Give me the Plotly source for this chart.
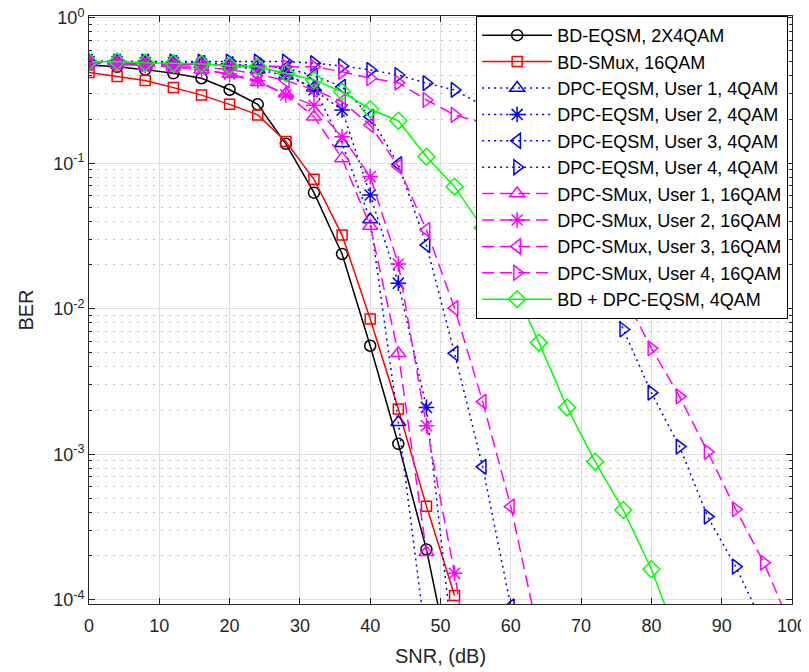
import plotly.graph_objects as go

# ---------------- data ----------------
snr_bd_eqsm = [0, 4, 8, 12, 16, 20, 24, 28, 32, 36, 40, 44, 48, 52]
ber_bd_eqsm = [0.474, 0.46, 0.44, 0.415, 0.384, 0.32, 0.254, 0.136, 0.0628, 0.0238, 0.00557, 0.00118, 2.22e-4, 2.6e-5]

snr_bd_smux = [0, 4, 8, 12, 16, 20, 24, 28, 32, 36, 40, 44, 48, 52]
ber_bd_smux = [0.42, 0.394, 0.37, 0.331, 0.294, 0.254, 0.215, 0.141, 0.0776, 0.0321, 0.0085, 0.00205, 4.4e-4, 1.07e-4]

snr_dpc_eqsm_u1 = [0, 4, 8, 12, 16, 20, 24, 28, 32, 36, 40, 44, 48]
ber_dpc_eqsm_u1 = [0.5, 0.5, 0.49, 0.49, 0.48, 0.47, 0.44, 0.40, 0.33, 0.137, 0.041, 0.00166, 5e-5]

snr_dpc_eqsm_u2 = [0, 4, 8, 12, 16, 20, 24, 28, 32, 36, 40, 44, 48, 52]
ber_dpc_eqsm_u2 = [0.5, 0.5, 0.49, 0.49, 0.48, 0.47, 0.45, 0.42, 0.32, 0.232, 0.0605, 0.015, 0.0021, 3.8e-5]

snr_dpc_eqsm_u3 = [0, 4, 8, 12, 16, 20, 24, 28, 32, 36, 40, 44, 48, 52, 56, 60]
ber_dpc_eqsm_u3 = [0.5, 0.5, 0.5, 0.49, 0.49, 0.48, 0.47, 0.45, 0.40, 0.336, 0.209, 0.0985, 0.0274, 0.00494, 8.2e-4, 9e-5]

snr_dpc_eqsm_u4 = [0, 4, 8, 12, 16, 20, 24, 28, 32, 36, 40, 44, 48, 52, 56, 60, 64, 68, 72, 76, 80, 84, 88, 92, 96]
ber_dpc_eqsm_u4 = [0.5, 0.5, 0.5, 0.5, 0.5, 0.5, 0.5, 0.5, 0.487, 0.466, 0.438, 0.404, 0.355, 0.319, 0.25, 0.18,
                   0.107, 0.052, 0.021, 0.0072, 0.00265, 0.00113, 3.73e-4, 1.69e-4, 6.6e-5]

snr_dpc_smux_u1 = [0, 4, 8, 12, 16, 20, 24, 28, 32, 36, 40, 44, 48]
ber_dpc_smux_u1 = [0.49, 0.48, 0.47, 0.46, 0.44, 0.41, 0.36, 0.30, 0.209, 0.108, 0.037, 0.00494, 2.12e-4]

snr_dpc_smux_u2 = [0, 4, 8, 12, 16, 20, 24, 28, 32, 36, 40, 44, 48, 52, 56]
ber_dpc_smux_u2 = [0.49, 0.48, 0.47, 0.46, 0.44, 0.41, 0.37, 0.295, 0.25, 0.152, 0.081, 0.0203, 0.00157, 1.52e-4, 1e-5]

snr_dpc_smux_u3 = [0, 4, 8, 12, 16, 20, 24, 28, 32, 36, 40, 44, 48, 52, 56, 60, 64]
ber_dpc_smux_u3 = [0.49, 0.49, 0.48, 0.47, 0.46, 0.44, 0.41, 0.37, 0.32, 0.265, 0.183, 0.095, 0.0348, 0.0101,
                   0.0023, 4.37e-4, 5.6e-5]

snr_dpc_smux_u4 = [0, 4, 8, 12, 16, 20, 24, 28, 32, 36, 40, 44, 48, 52, 56, 60, 64, 68, 72, 76, 80, 84, 88, 92, 96, 100]
ber_dpc_smux_u4 = [0.49, 0.49, 0.48, 0.48, 0.48, 0.47, 0.47, 0.46, 0.46, 0.426, 0.384, 0.358, 0.272, 0.215, 0.19,
                   0.14, 0.093, 0.054, 0.028, 0.0126, 0.00535, 0.0025, 0.00104, 4.19e-4, 1.8e-4, 6.3e-5]

snr_bd_dpc = [0, 4, 8, 12, 16, 20, 24, 28, 32, 36, 40, 44, 48, 52, 56, 60, 64, 68, 72, 76, 80, 84]
ber_bd_dpc = [0.499, 0.5, 0.49, 0.486, 0.482, 0.466, 0.46, 0.416, 0.374, 0.31, 0.235, 0.196, 0.111, 0.069,
              0.036, 0.0158, 0.00585, 0.0021, 8.9e-4, 4.14e-4, 1.62e-4, 5e-5]

series_names = [
    "BD-EQSM, 2X4QAM",
    "BD-SMux, 16QAM",
    "DPC-EQSM, User 1, 4QAM",
    "DPC-EQSM, User 2, 4QAM",
    "DPC-EQSM, User 3, 4QAM",
    "DPC-EQSM, User 4, 4QAM",
    "DPC-SMux, User 1, 16QAM",
    "DPC-SMux, User 2, 16QAM",
    "DPC-SMux, User 3, 16QAM",
    "DPC-SMux, User 4, 16QAM",
    "BD + DPC-EQSM, 4QAM",
]

x_tick_vals = [0, 10, 20, 30, 40, 50, 60, 70, 80, 90, 100]
y_tick_vals = [1e-4, 1e-3, 1e-2, 1e-1, 1]
y_tick_text = ["10<sup>-4</sup>", "10<sup>-3</sup>", "10<sup>-2</sup>", "10<sup>-1</sup>", "10<sup>0</sup>"]

# ---------------- styling ----------------
xs = [snr_bd_eqsm, snr_bd_smux, snr_dpc_eqsm_u1, snr_dpc_eqsm_u2, snr_dpc_eqsm_u3, snr_dpc_eqsm_u4,
      snr_dpc_smux_u1, snr_dpc_smux_u2, snr_dpc_smux_u3, snr_dpc_smux_u4, snr_bd_dpc]
ys = [ber_bd_eqsm, ber_bd_smux, ber_dpc_eqsm_u1, ber_dpc_eqsm_u2, ber_dpc_eqsm_u3, ber_dpc_eqsm_u4,
      ber_dpc_smux_u1, ber_dpc_smux_u2, ber_dpc_smux_u3, ber_dpc_smux_u4, ber_bd_dpc]

BLUE = "#0000ff"
MAG = "#ff00ff"
styles = [
    dict(color="#000000", dash="solid", symbol="circle-open", size=11),
    dict(color="#ff0000", dash="solid", symbol="square-open", size=10),
    dict(color=BLUE, dash="2px,4px", symbol="triangle-up-open", size=13),
    dict(color=BLUE, dash="2px,4px", symbol="asterisk-open", size=13),
    dict(color=BLUE, dash="2px,4px", symbol="triangle-left-open", size=13),
    dict(color=BLUE, dash="2px,4px", symbol="triangle-right-open", size=13),
    dict(color=MAG, dash="12px,6px", symbol="triangle-up-open", size=13),
    dict(color=MAG, dash="12px,6px", symbol="asterisk-open", size=13),
    dict(color=MAG, dash="12px,6px", symbol="triangle-left-open", size=13),
    dict(color=MAG, dash="12px,6px", symbol="triangle-right-open", size=13),
    dict(color="#00ff00", dash="solid", symbol="diamond-open", size=13),
]

fig = go.Figure()
for name, x, y, st in zip(series_names, xs, ys, styles):
    fig.add_trace(go.Scatter(
        x=x, y=y, name=name, mode="lines+markers",
        line=dict(color=st["color"], width=1.5, dash=st["dash"]),
        marker=dict(symbol=st["symbol"], size=st["size"], color=st["color"],
                    line=dict(color=st["color"], width=1.5)),
    ))

AX = "#262626"
FONT = "Liberation Sans, Arial, Helvetica, sans-serif"
minor_vals = [m * 10 ** e for e in range(-4, 0) for m in range(2, 10)]

# page body has an 8px margin, so the figure is sized/offset to compensate
fig.update_layout(
    width=801, height=664,
    margin=dict(l=81, r=17, t=8, b=68),
    paper_bgcolor="white", plot_bgcolor="white",
    font=dict(family=FONT, size=18, color=AX),
    showlegend=True,
    legend=dict(
        x=0.9945, y=1, xanchor="right", yanchor="top",
        bgcolor="white", bordercolor="#000000", borderwidth=1,
        font=dict(family=FONT, size=18, color="#000000"),
        itemwidth=70, tracegroupgap=0,
    ),
    xaxis=dict(
        range=[0, 100], tickmode="array", tickvals=x_tick_vals, automargin=False,
        ticks="inside", ticklen=6, tickcolor=AX, tickwidth=1, ticklabelstandoff=5,
        ticklabeloverflow="allow",
        showline=True, linecolor=AX, linewidth=1, mirror="ticks",
        showgrid=True, gridcolor="#dedede", gridwidth=1, zeroline=False,
        tickfont=dict(size=18, color=AX),
        title=dict(text="SNR, (dB)", font=dict(size=20, color=AX), standoff=14),
    ),
    yaxis=dict(
        type="log", range=[-4.029, 0.012], tickmode="array", automargin=False,
        tickvals=y_tick_vals, ticktext=y_tick_text, ticklabeloverflow="allow",
        ticks="inside", ticklen=6, tickcolor=AX, tickwidth=1,
        showline=True, linecolor=AX, linewidth=1, mirror="ticks",
        showgrid=True, gridcolor="#dedede", gridwidth=1, zeroline=False,
        tickfont=dict(size=18, color=AX),
        title=dict(text="BER", font=dict(size=20, color=AX), standoff=14),
        minor=dict(tickmode="array", tickvals=minor_vals, ticks="inside", ticklen=3,
                   tickcolor=AX, showgrid=True, gridcolor="#c4c4c4", griddash="1.5px,6.5px", gridwidth=1),
    ),
)

fig.write_html("out.html")
